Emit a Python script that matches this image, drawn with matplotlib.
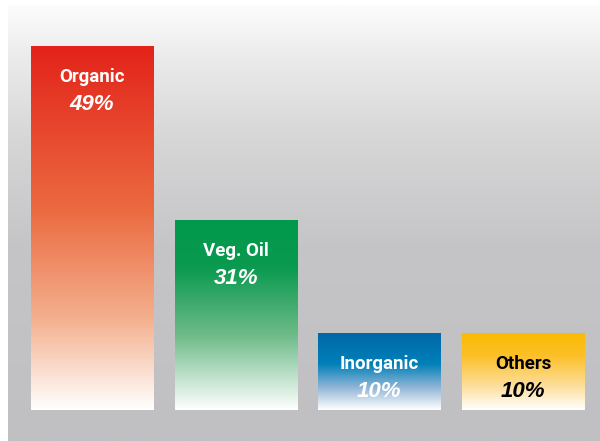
import matplotlib.pyplot as plt
import numpy as np
from matplotlib.colors import LinearSegmentedColormap

categories = ["Organic", "Veg. Oil", "Inorganic", "Others"]
share_labels = ["49%", "31%", "10%", "10%"]
# visual bar heights as drawn in the picture (not proportional to the shares)
bar_heights = [364, 190, 77, 77]

# gradient stops, top of bar -> bottom of bar
bar_stops = [
    [(0.0, "#e3231a"), (0.45, "#eb6a40"), (0.75, "#f4b08e"), (1.0, "#ffffff")],
    [(0.0, "#00994c"), (0.25, "#0a9a50"), (0.6, "#6cba87"), (1.0, "#ffffff")],
    [(0.0, "#0068a8"), (0.4, "#0080b8"), (0.7, "#8eb4d6"), (1.0, "#ffffff")],
    [(0.0, "#fbba00"), (0.3, "#fcc02a"), (0.7, "#fde0a0"), (1.0, "#ffffff")],
]
text_colors = ["white", "white", "white", "black"]

fig = plt.figure(figsize=(6, 4.41), dpi=100)
fig.patch.set_facecolor("white")
ax = fig.add_axes([8 / 600, 0, 592 / 600, 436 / 441])
ax.set_xlim(-0.585, 3.536)
ax.set_ylim(-31, 405)
ax.axis("off")

# background gradient panel
bg = LinearSegmentedColormap.from_list(
    "bg", [(0.0, "#fcfcfc"), (0.12, "#ebebeb"), (0.3, "#d7d7d8"),
           (0.55, "#c5c5c7"), (1.0, "#c0c0c2")])
ax.imshow(np.linspace(0, 1, 256).reshape(-1, 1), cmap=bg, aspect="auto",
          extent=(-0.585, 3.536, -31, 405), origin="upper", zorder=0)

x = np.arange(len(categories))
bars = ax.bar(x, bar_heights, width=0.85, color="none", zorder=1)

for i, b in enumerate(bars):
    x0, w, h = b.get_x(), b.get_width(), b.get_height()
    cm = LinearSegmentedColormap.from_list(categories[i], bar_stops[i])
    ax.imshow(np.linspace(0, 1, 256).reshape(-1, 1), cmap=cm, aspect="auto",
              extent=(x0, x0 + w, 0, h), origin="upper", zorder=2)
    ax.text(x[i], h - 31, categories[i], ha="center", va="center",
            fontsize=13.5, fontweight="bold", color=text_colors[i],
            family=["Roboto", "DejaVu Sans"], zorder=3)
    ax.text(x[i], h - 58.5, share_labels[i], ha="center", va="center",
            fontsize=16, fontweight="bold", style="italic",
            color=text_colors[i], family=["Liberation Sans", "DejaVu Sans"],
            zorder=3)

fig.savefig("out.png", dpi=100)
